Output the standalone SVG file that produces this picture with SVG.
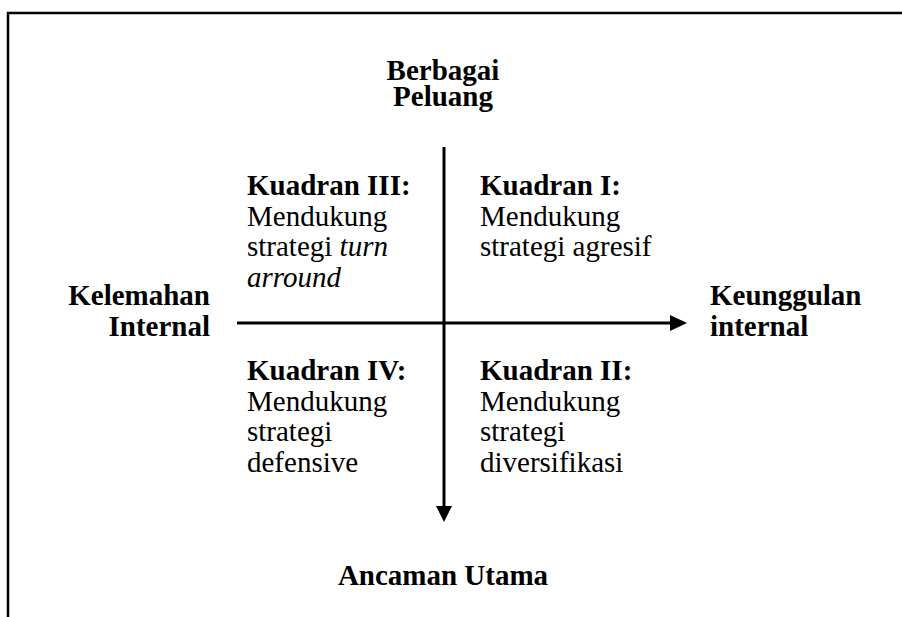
<svg xmlns="http://www.w3.org/2000/svg" width="902" height="617" viewBox="0 0 902 617">
<style>
text{font-family:'Liberation Serif','Times New Roman',serif;font-size:29px;fill:#000}
.b{font-weight:bold}
.i{font-style:italic}
.ax{stroke:#000;stroke-width:3;fill:none}
.frame{stroke:#000;stroke-width:2.5;fill:none}
</style>
<rect width="902" height="617" fill="#fff"/>
<path class="frame" d="M8 617 V13 H902"/>
<g id="connectors">
<line class="ax" x1="237" y1="323" x2="671" y2="323"/>
<polygon points="670,315 687,323 670,331"/>
<line class="ax" x1="444" y1="147" x2="444" y2="507"/>
<polygon points="436,506 444,522 452,506"/>
</g>
<g id="top-label"><text class="b" x="443" y="80" text-anchor="middle">Berbagai</text><text class="b" x="443" y="106" text-anchor="middle">Peluang</text></g>
<g id="left-label"><text class="b" x="210" y="305" text-anchor="end">Kelemahan</text><text class="b" x="210" y="336" text-anchor="end">Internal</text></g>
<g id="right-label"><text class="b" x="710" y="305">Keunggulan</text><text class="b" x="710" y="336">internal</text></g>
<g id="bottom-label"><text class="b" x="443" y="585" text-anchor="middle">Ancaman Utama</text></g>
<g id="q3"><text class="b" x="247" y="195">Kuadran III:</text><text x="247" y="226">Mendukung</text><text x="247" y="256">strategi <tspan class="i">turn</tspan></text><text class="i" x="247" y="287">arround</text></g>
<g id="q1"><text class="b" x="480" y="195">Kuadran I:</text><text x="480" y="226">Mendukung</text><text x="480" y="256">strategi agresif</text></g>
<g id="q4"><text class="b" x="247" y="380">Kuadran IV:</text><text x="247" y="411">Mendukung</text><text x="247" y="441">strategi</text><text x="247" y="472">defensive</text></g>
<g id="q2"><text class="b" x="480" y="380">Kuadran II:</text><text x="480" y="411">Mendukung</text><text x="480" y="441">strategi</text><text x="480" y="472">diversifikasi</text></g>
</svg>
